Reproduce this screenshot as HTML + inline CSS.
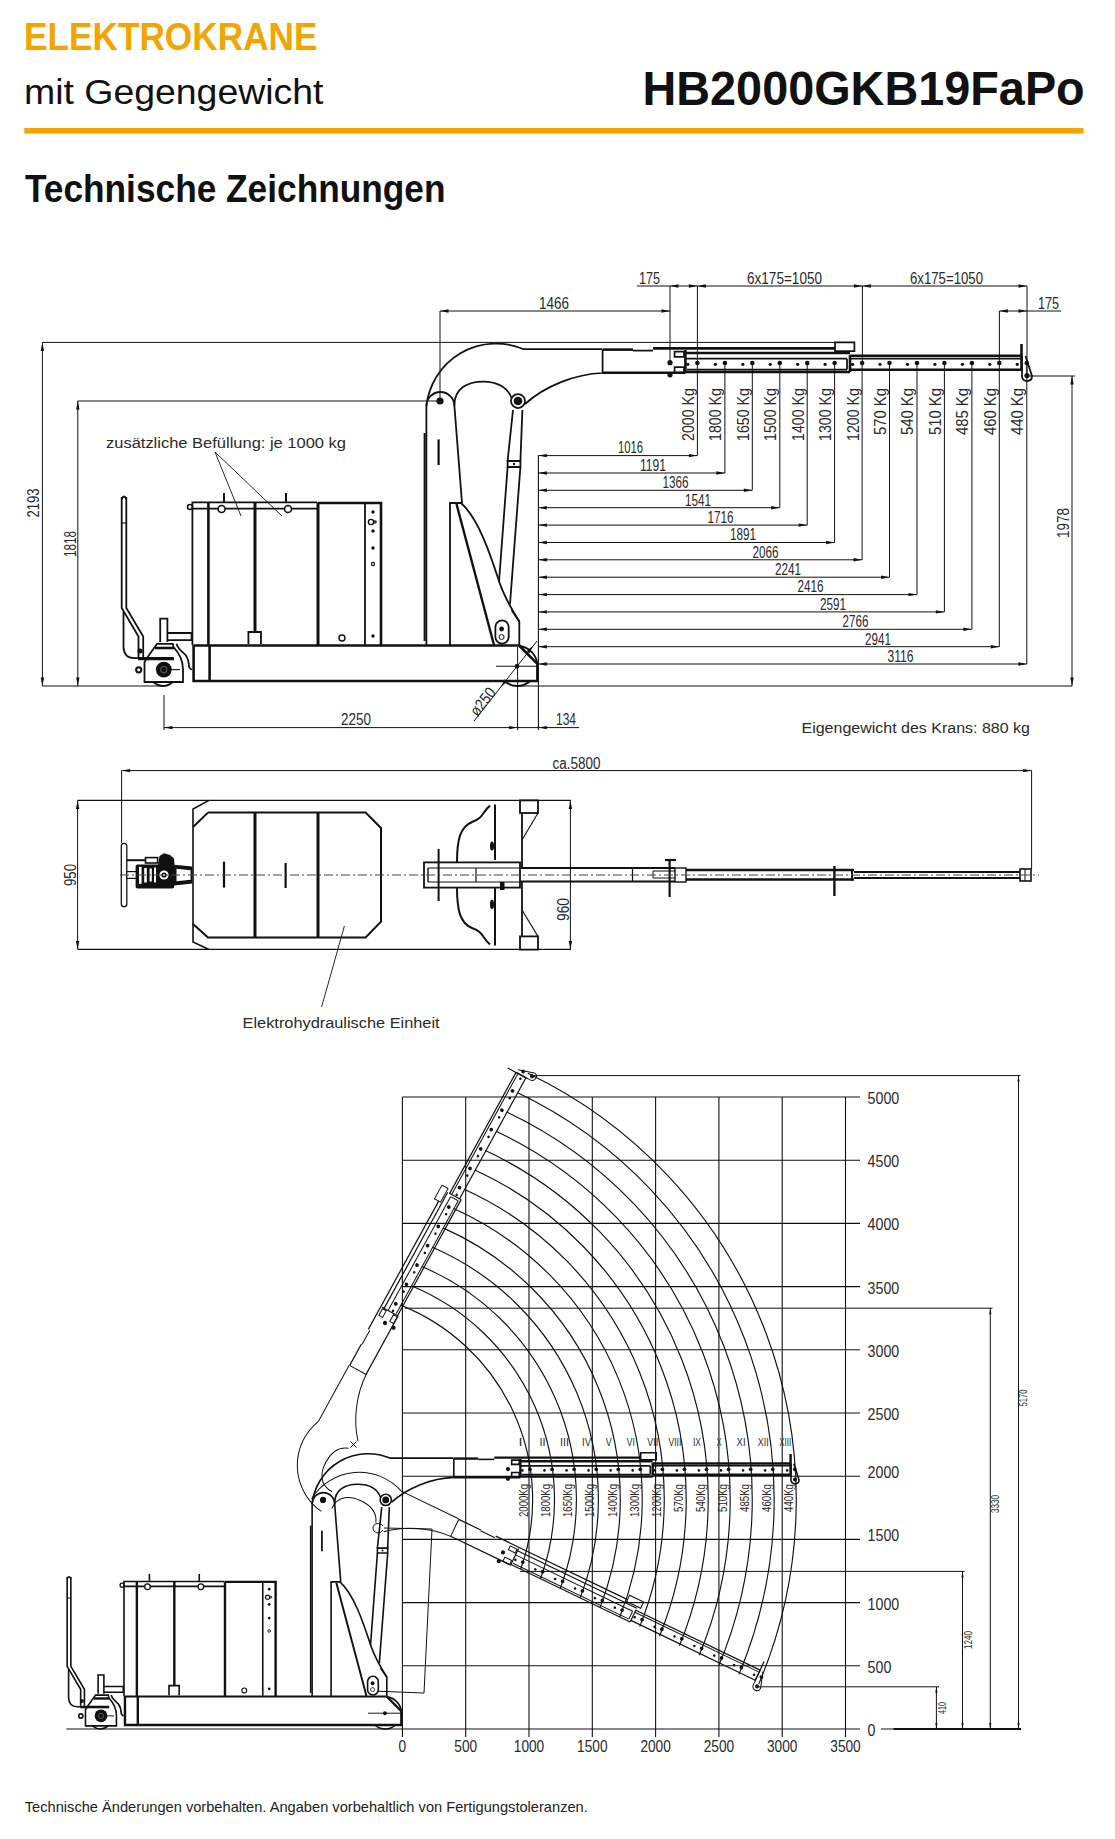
<!DOCTYPE html>
<html><head><meta charset="utf-8"><title>HB2000GKB19FaPo</title>
<style>
html,body{margin:0;padding:0;background:#fff;}
body{width:1115px;height:1839px;position:relative;overflow:hidden;font-family:"Liberation Sans",sans-serif;}
svg{position:absolute;left:0;top:0;}
svg text{font-family:"Liberation Sans",sans-serif;}
</style></head><body>
<svg width="1115" height="1839" viewBox="0 0 1115 1839" stroke-linecap="butt"><defs><g id="crane"><path d="M121.7,497 L121.7,608 L138.5,636.6 L138.5,657" stroke="#111" style="stroke-width:var(--nw,1.1px)" fill="none"/>
<path d="M126.3,497 L126.3,608 L143.2,636.6 L143.2,657" stroke="#111" style="stroke-width:var(--nw,1.1px)" fill="none"/>
<path d="M121.7,499 Q124,494 126.3,499" stroke="#111" style="stroke-width:var(--nw,1.1px)" fill="none"/>
<path d="M123.5,612 L123.5,647 Q124,658 134,658.2 L140,658.2" stroke="#111" style="stroke-width:var(--nw,1.1px)" fill="none"/>
<path d="M121.7,523 L126.3,523" stroke="#111" style="stroke-width:var(--hw,0.9px)" fill="none"/>
<path d="M144.5,662 L144.5,682 L183,682 L183,669 C183,660 178,652 173.5,647 L172.8,643.8 L157,643.8 L147,658 Z" stroke="#111" style="stroke-width:var(--nw,1.1px)" fill="#fff"/>
<line x1="155.0" y1="648.0" x2="174.0" y2="648.0" stroke="#111" style="stroke-width:var(--tw,2px)"/>
<line x1="138.0" y1="658.6" x2="174.0" y2="658.6" stroke="#111" stroke-width="3.2"/>
<path d="M160.2,642 L160.2,618.7 L167.4,618.7 L167.4,642" stroke="#111" style="stroke-width:var(--nw,1.1px)" fill="#fff"/>
<path d="M167.4,633 L191.6,633 L191.6,640.2 L167.4,640.2" stroke="#111" style="stroke-width:var(--nw,1.1px)" fill="none"/>
<path d="M176.4,643.8 Q178.2,649.2 185.3,654.6 Q189,660 189,667 L191.6,670" stroke="#111" style="stroke-width:var(--nw,1.1px)" fill="none"/>
<circle cx="163.8" cy="669.6" r="7.9" stroke="#111" stroke-width="0" fill="#111"/>
<circle cx="163.8" cy="669.6" r="3.2" stroke="#999" stroke-width="0.6" fill="none"/>
<line x1="171.0" y1="669.6" x2="180.0" y2="669.6" stroke="#111" style="stroke-width:var(--hw,0.9px)"/>
<path d="M153,682 Q163.8,690 172.8,682" stroke="#111" style="stroke-width:var(--nw,1.1px)" fill="none"/>
<circle cx="138.7" cy="669.8" r="2.6" stroke="#111" stroke-width="2" fill="none"/>
<circle cx="140.0" cy="651.0" r="2.5" fill="#111"/>
<path d="M192.4,645 L192.4,502.4 L317,502.4" stroke="#111" style="stroke-width:var(--nw,1.1px)" fill="none"/>
<line x1="192.4" y1="508.6" x2="317.0" y2="508.6" stroke="#111" style="stroke-width:var(--nw,1.1px)"/>
<line x1="208.4" y1="502.4" x2="208.4" y2="645.0" stroke="#111" style="stroke-width:var(--tw,2px)"/>
<line x1="255.0" y1="502.4" x2="255.0" y2="632.0" stroke="#111" stroke-width="3"/>
<path d="M248.4,644 L248.4,632 L261,632 L261,644" stroke="#111" style="stroke-width:var(--nw,1.1px)" fill="none"/>
<line x1="318.0" y1="502.4" x2="318.0" y2="645.0" stroke="#111" stroke-width="3"/>
<circle cx="221.6" cy="509.0" r="3.5" stroke="#111" stroke-width="1.6" fill="#fff"/>
<circle cx="288.0" cy="509.0" r="3.5" stroke="#111" stroke-width="1.6" fill="#fff"/>
<line x1="224.0" y1="493.0" x2="224.0" y2="502.0" stroke="#111" stroke-width="2"/>
<line x1="286.0" y1="493.0" x2="286.0" y2="502.0" stroke="#111" stroke-width="2"/>
<circle cx="190.0" cy="507.0" r="2.5" stroke="#111" stroke-width="1.6" fill="none"/>
<path d="M318,503 L381,503 L381,645" stroke="#111" style="stroke-width:var(--tw,2px)" fill="none"/>
<line x1="365.0" y1="503.0" x2="365.0" y2="645.0" stroke="#111" style="stroke-width:var(--nw,1.1px)"/>
<circle cx="373.0" cy="512.0" r="1.7" fill="#111"/>
<circle cx="373.0" cy="531.0" r="1.7" fill="#111"/>
<circle cx="373.0" cy="548.0" r="1.7" fill="#111"/>
<circle cx="373.0" cy="636.0" r="1.7" fill="#111"/>
<circle cx="371.0" cy="522.0" r="2.6" stroke="#111" stroke-width="1.4" fill="none"/>
<circle cx="375.0" cy="522.0" r="1.2" stroke="#111" stroke-width="1.2" fill="none"/>
<circle cx="373.0" cy="564.0" r="1.6" stroke="#111" stroke-width="1.2" fill="none"/>
<circle cx="342.0" cy="638.0" r="3" stroke="#111" stroke-width="1.4" fill="none"/>
<path d="M193.6,645 L193.6,681 L537.4,681 L537.4,663.8 L519.1,645.5" stroke="#111" style="stroke-width:var(--tw,2px)" fill="none"/>
<line x1="193.6" y1="645.5" x2="519.1" y2="645.5" stroke="#111" stroke-width="2.6"/>
<line x1="209.6" y1="645.0" x2="209.6" y2="681.0" stroke="#111" style="stroke-width:var(--tw,2px)"/>
<path d="M519.5,646 A20.5,20.5 0 0 1 537.4,663.8" stroke="#111" style="stroke-width:var(--nw,1.1px)" fill="none"/>
<path d="M504.4,681 A19.2,19.2 0 0 0 530.2,681" stroke="#111" style="stroke-width:var(--nw,1.1px)" fill="none"/>
<circle cx="517.0" cy="666.3" r="2.4" fill="#111"/>
<line x1="496.0" y1="666.3" x2="537.0" y2="666.3" stroke="#111" style="stroke-width:var(--hw,0.9px)"/>
<line x1="426.4" y1="406.0" x2="426.4" y2="645.0" stroke="#111" style="stroke-width:var(--nw,1.1px)"/>
<line x1="424.6" y1="433.0" x2="424.6" y2="641.0" stroke="#111" stroke-width="2"/>
<line x1="454.4" y1="406.0" x2="462.0" y2="503.0" stroke="#111" style="stroke-width:var(--nw,1.1px)"/>
<line x1="438.6" y1="439.4" x2="438.6" y2="465.0" stroke="#111" stroke-width="2.2"/>
<path d="M426.4,406 A14,14 0 0 1 454.4,406" stroke="#111" style="stroke-width:var(--nw,1.1px)" fill="none"/>
<path d="M450,645 L450,503 L462,503" stroke="#111" style="stroke-width:var(--nw,1.1px)" fill="none"/>
<line x1="456.5" y1="504.0" x2="494.0" y2="645.0" stroke="#111" stroke-width="2.4"/>
<path d="M461,503 C480,520 492,560 500,584 C505,598 512,610 519.3,621.5 L519.3,645" stroke="#111" style="stroke-width:var(--nw,1.1px)" fill="none"/>
<path d="M511.6,610 L519.3,621.5" stroke="#111" style="stroke-width:var(--nw,1.1px)" fill="none"/>
<path d="M495.4,627 A6.65,6.65 0 0 1 508.7,627 L508.7,637 A6.65,6.65 0 0 1 495.4,637Z" stroke="#111" style="stroke-width:var(--nw,1.1px)" fill="#fff"/>
<circle cx="501.6" cy="629.0" r="2.4" fill="#111"/>
<circle cx="501.6" cy="637.0" r="2.5" stroke="#111" stroke-width="1" fill="none"/>
<path d="M513,410 L507.6,461 M522.4,410 L520.4,461" stroke="#111" style="stroke-width:var(--nw,1.1px)" fill="none"/>
<path d="M507.6,461 L520.4,461 L520.4,467 L507.6,467Z" stroke="#111" style="stroke-width:var(--nw,1.1px)" fill="none"/>
<circle cx="514.0" cy="464.0" r="1.2" fill="#111"/>
<path d="M507.6,467 L499,582 M520.4,467 L510,604" stroke="#111" style="stroke-width:var(--nw,1.1px)" fill="none"/></g><g id="boom"><path d="M426.4,406 A70,70 0 0 1 523,349 L602,349" stroke="#111" style="stroke-width:var(--nw,1.1px)" fill="none"/>
<path d="M602.6,349.4 L602.6,373 C575,374 545,386 525,404" stroke="#111" style="stroke-width:var(--nw,1.1px)" fill="none"/>
<path d="M454.4,406 C454,388 468,381.5 483,381.5 C498,381.5 508,388 511.5,398" stroke="#111" style="stroke-width:var(--nw,1.1px)" fill="none"/>
<circle cx="440.0" cy="401.0" r="3.6" fill="#111"/>
<g style="opacity:var(--p2,1)"><circle cx="518.0" cy="401.0" r="7" stroke="#111" style="stroke-width:var(--nw,1.1px)" fill="#fff"/><circle cx="518.0" cy="401.0" r="4.3" fill="#111"/></g>
<line x1="602.6" y1="349.6" x2="633.0" y2="349.6" stroke="#111" style="stroke-width:var(--tw,2px)"/>
<line x1="633.0" y1="350.6" x2="653.0" y2="350.6" stroke="#111" style="stroke-width:var(--nw,1.1px)"/>
<line x1="602.6" y1="372.8" x2="685.4" y2="372.8" stroke="#111" style="stroke-width:var(--tw,2px)"/>
<line x1="685.4" y1="350.0" x2="685.4" y2="373.0" stroke="#111" style="stroke-width:var(--tw,2px)"/>
<line x1="653.0" y1="348.4" x2="835.0" y2="348.4" stroke="#111" style="stroke-width:var(--tw,2px)"/>
<path d="M835,342.4 L854.4,342.4 L854.4,351 L835,351Z" stroke="#111" style="stroke-width:var(--nw,1.1px)" fill="none"/>
<line x1="685.4" y1="353.0" x2="850.0" y2="353.0" stroke="#111" style="stroke-width:var(--tw,2px)"/>
<line x1="685.4" y1="358.7" x2="847.0" y2="358.7" stroke="#111" style="stroke-width:var(--nw,1.1px)"/>
<line x1="687.0" y1="369.5" x2="847.0" y2="369.5" stroke="#111" style="stroke-width:var(--nw,1.1px)"/>
<line x1="685.4" y1="372.0" x2="850.0" y2="372.0" stroke="#111" style="stroke-width:var(--tw,2px)"/>
<line x1="850.0" y1="355.0" x2="850.0" y2="372.0" stroke="#111" style="stroke-width:var(--tw,2px)"/>
<line x1="847.0" y1="358.7" x2="847.0" y2="369.5" stroke="#111" style="stroke-width:var(--nw,1.1px)"/>
<path d="M674.6,351.5 L684,351.5 L684,356.8 L674.6,356.8Z" stroke="#111" style="stroke-width:var(--nw,1.1px)" fill="none"/>
<path d="M674.6,367 L684,367 L684,372.6 L674.6,372.6Z" stroke="#111" style="stroke-width:var(--nw,1.1px)" fill="none"/>
<line x1="850.0" y1="355.8" x2="1021.0" y2="355.8" stroke="#111" style="stroke-width:var(--tw,2px)"/>
<line x1="850.0" y1="358.6" x2="1021.0" y2="358.6" stroke="#111" style="stroke-width:var(--nw,1.1px)"/>
<line x1="850.0" y1="369.8" x2="1021.0" y2="369.8" stroke="#111" style="stroke-width:var(--tw,2px)"/>
<line x1="1021.5" y1="344.0" x2="1021.5" y2="371.0" stroke="#111" style="stroke-width:var(--tw,2px)"/>
<path d="M1022,356 L1022,377 Q1023,381 1027,381 Q1032,381 1032,376 L1025.5,356" stroke="#111" style="stroke-width:var(--nw,1.1px)" fill="none"/>
<circle cx="1027.0" cy="375.6" r="2.6" fill="#111"/>
<circle cx="697.4" cy="363.0" r="2.3" fill="#111"/>
<circle cx="687.9" cy="364.3" r="1.6" fill="#111"/>
<circle cx="724.9" cy="363.0" r="2.3" fill="#111"/>
<circle cx="715.4" cy="364.3" r="1.6" fill="#111"/>
<circle cx="752.3" cy="363.0" r="2.3" fill="#111"/>
<circle cx="742.8" cy="364.3" r="1.6" fill="#111"/>
<circle cx="779.8" cy="363.0" r="2.3" fill="#111"/>
<circle cx="770.2" cy="364.3" r="1.6" fill="#111"/>
<circle cx="807.2" cy="363.0" r="2.3" fill="#111"/>
<circle cx="797.7" cy="364.3" r="1.6" fill="#111"/>
<circle cx="834.6" cy="363.0" r="2.3" fill="#111"/>
<circle cx="825.1" cy="364.3" r="1.6" fill="#111"/>
<circle cx="862.1" cy="363.0" r="2.3" fill="#111"/>
<circle cx="852.6" cy="364.3" r="1.6" fill="#111"/>
<circle cx="889.5" cy="363.0" r="2.3" fill="#111"/>
<circle cx="880.0" cy="364.3" r="1.6" fill="#111"/>
<circle cx="917.0" cy="363.0" r="2.3" fill="#111"/>
<circle cx="907.5" cy="364.3" r="1.6" fill="#111"/>
<circle cx="944.4" cy="363.0" r="2.3" fill="#111"/>
<circle cx="934.9" cy="364.3" r="1.6" fill="#111"/>
<circle cx="971.9" cy="363.0" r="2.3" fill="#111"/>
<circle cx="962.4" cy="364.3" r="1.6" fill="#111"/>
<circle cx="999.3" cy="363.0" r="2.3" fill="#111"/>
<circle cx="989.8" cy="364.3" r="1.6" fill="#111"/>
<circle cx="1026.8" cy="363.0" r="2.3" fill="#111"/>
<circle cx="1017.3" cy="364.3" r="1.6" fill="#111"/>
<circle cx="670.0" cy="362.7" r="2.6" fill="#111"/>
<circle cx="670.0" cy="374.8" r="2.6" fill="#111"/></g></defs>
<text x="24.0" y="49.8" font-size="39" text-anchor="start" textLength="293.5" lengthAdjust="spacingAndGlyphs" fill="#F2A400" font-weight="bold">ELEKTROKRANE</text>
<text x="24.0" y="104.0" font-size="35.6" text-anchor="start" textLength="299.5" lengthAdjust="spacingAndGlyphs" fill="#111" font-weight="normal">mit Gegengewicht</text>
<text x="642.5" y="105.2" font-size="48.6" text-anchor="start" textLength="442.2" lengthAdjust="spacingAndGlyphs" fill="#111" font-weight="bold">HB2000GKB19FaPo</text>
<rect x="24.3" y="128" width="1059.3" height="5.6" fill="#F2A400"/>
<text x="24.9" y="201.8" font-size="39" text-anchor="start" textLength="420.6" lengthAdjust="spacingAndGlyphs" fill="#111" font-weight="bold">Technische Zeichnungen</text>
<text x="24.8" y="1812.0" font-size="14.4" text-anchor="start" textLength="563" lengthAdjust="spacingAndGlyphs" fill="#222" font-weight="normal">Technische Änderungen vorbehalten. Angaben vorbehaltlich von Fertigungstoleranzen.</text>
<line x1="42.4" y1="342.4" x2="835.0" y2="342.4" stroke="#111" stroke-width="1"/>
<line x1="42.4" y1="686.0" x2="163.8" y2="686.0" stroke="#111" stroke-width="1.1"/>
<line x1="517.0" y1="686.0" x2="1072.0" y2="686.0" stroke="#111" stroke-width="1.1"/>
<line x1="42.4" y1="342.4" x2="42.4" y2="686.0" stroke="#111" stroke-width="1"/>
<path d="M42.4,342.4 L44.1,350.9 L40.7,350.9Z" fill="#111"/>
<path d="M42.4,686.0 L40.7,677.5 L44.1,677.5Z" fill="#111"/>
<line x1="77.8" y1="401.0" x2="77.8" y2="686.0" stroke="#111" stroke-width="1"/>
<path d="M77.8,401.0 L79.5,409.5 L76.1,409.5Z" fill="#111"/>
<path d="M77.8,686.0 L76.1,677.5 L79.5,677.5Z" fill="#111"/>
<line x1="77.8" y1="401.0" x2="440.0" y2="401.0" stroke="#111" stroke-width="1"/>
<text x="38.6" y="503.0" font-size="16" text-anchor="middle" textLength="29" lengthAdjust="spacingAndGlyphs" transform="rotate(-90 38.6 503.0)" fill="#2a2a2a" font-weight="normal">2193</text>
<text x="75.5" y="544.0" font-size="16" text-anchor="middle" textLength="26" lengthAdjust="spacingAndGlyphs" transform="rotate(-90 75.5 544.0)" fill="#2a2a2a" font-weight="normal">1818</text>
<line x1="440.0" y1="311.0" x2="670.0" y2="311.0" stroke="#111" stroke-width="1"/>
<path d="M440.0,311.0 L448.5,309.3 L448.5,312.7Z" fill="#111"/>
<path d="M670.0,311.0 L661.5,312.7 L661.5,309.3Z" fill="#111"/>
<line x1="440.0" y1="311.0" x2="440.0" y2="401.0" stroke="#111" stroke-width="1"/>
<text x="554.0" y="309.0" font-size="16" text-anchor="middle" textLength="30" lengthAdjust="spacingAndGlyphs" fill="#2a2a2a" font-weight="normal">1466</text>
<line x1="670.0" y1="286.0" x2="670.0" y2="363.0" stroke="#111" stroke-width="1"/>
<line x1="697.4" y1="286.0" x2="697.4" y2="363.0" stroke="#111" stroke-width="1"/>
<line x1="862.4" y1="286.0" x2="862.4" y2="363.0" stroke="#111" stroke-width="1"/>
<line x1="999.4" y1="311.0" x2="999.4" y2="363.0" stroke="#111" stroke-width="1"/>
<line x1="637.0" y1="286.0" x2="1027.0" y2="286.0" stroke="#111" stroke-width="1"/>
<path d="M670.0,286.0 L678.5,284.3 L678.5,287.7Z" fill="#111"/>
<path d="M697.4,286.0 L705.9,284.3 L705.9,287.7Z" fill="#111"/>
<path d="M697.4,286.0 L688.9,287.7 L688.9,284.3Z" fill="#111"/>
<path d="M862.4,286.0 L870.9,284.3 L870.9,287.7Z" fill="#111"/>
<path d="M862.4,286.0 L853.9,287.7 L853.9,284.3Z" fill="#111"/>
<path d="M1027.0,286.0 L1018.5,287.7 L1018.5,284.3Z" fill="#111"/>
<text x="649.5" y="283.6" font-size="16" text-anchor="middle" textLength="21" lengthAdjust="spacingAndGlyphs" fill="#2a2a2a" font-weight="normal">175</text>
<text x="784.5" y="283.6" font-size="16" text-anchor="middle" textLength="75" lengthAdjust="spacingAndGlyphs" fill="#2a2a2a" font-weight="normal">6x175=1050</text>
<text x="946.5" y="283.6" font-size="16" text-anchor="middle" textLength="73" lengthAdjust="spacingAndGlyphs" fill="#2a2a2a" font-weight="normal">6x175=1050</text>
<line x1="999.4" y1="311.0" x2="1061.0" y2="311.0" stroke="#111" stroke-width="1"/>
<path d="M999.4,311.0 L1007.9,309.3 L1007.9,312.7Z" fill="#111"/>
<path d="M1027.0,311.0 L1018.5,312.7 L1018.5,309.3Z" fill="#111"/>
<text x="1048.5" y="309.0" font-size="16" text-anchor="middle" textLength="21" lengthAdjust="spacingAndGlyphs" fill="#2a2a2a" font-weight="normal">175</text>
<line x1="1027.0" y1="286.0" x2="1027.0" y2="376.0" stroke="#111" stroke-width="1"/>
<line x1="1027.0" y1="376.0" x2="1075.0" y2="376.0" stroke="#111" stroke-width="1"/>
<line x1="1072.0" y1="376.0" x2="1072.0" y2="686.0" stroke="#111" stroke-width="1"/>
<path d="M1072.0,376.0 L1073.7,384.5 L1070.3,384.5Z" fill="#111"/>
<path d="M1072.0,686.0 L1070.3,677.5 L1073.7,677.5Z" fill="#111"/>
<text x="1068.5" y="523.0" font-size="16" text-anchor="middle" textLength="30" lengthAdjust="spacingAndGlyphs" transform="rotate(-90 1068.5 523.0)" fill="#2a2a2a" font-weight="normal">1978</text>
<line x1="164.0" y1="727.6" x2="579.0" y2="727.6" stroke="#111" stroke-width="1"/>
<path d="M164.0,727.6 L172.5,725.9 L172.5,729.3Z" fill="#111"/>
<path d="M517.6,727.6 L509.1,729.3 L509.1,725.9Z" fill="#111"/>
<path d="M538.4,727.6 L546.9,725.9 L546.9,729.3Z" fill="#111"/>
<line x1="164.0" y1="695.0" x2="164.0" y2="730.0" stroke="#111" stroke-width="1"/>
<line x1="517.6" y1="647.0" x2="517.6" y2="730.0" stroke="#111" stroke-width="1"/>
<text x="356.0" y="725.0" font-size="16" text-anchor="middle" textLength="30" lengthAdjust="spacingAndGlyphs" fill="#2a2a2a" font-weight="normal">2250</text>
<text x="566.0" y="725.0" font-size="16" text-anchor="middle" textLength="20" lengthAdjust="spacingAndGlyphs" fill="#2a2a2a" font-weight="normal">134</text>
<line x1="474.0" y1="721.0" x2="537.0" y2="641.0" stroke="#111" stroke-width="1"/>
<path d="M500.8,687.0 L504.7,679.3 L507.4,681.4Z" fill="#111"/>
<path d="M533.4,645.5 L529.5,653.2 L526.8,651.1Z" fill="#111"/>
<text x="487.0" y="705.0" font-size="16" text-anchor="middle" textLength="31" lengthAdjust="spacingAndGlyphs" transform="rotate(-51.8 487.0 705.0)" fill="#2a2a2a" font-weight="normal">ø250</text>
<line x1="538.4" y1="455.6" x2="538.4" y2="730.0" stroke="#111" stroke-width="1.1"/>
<line x1="538.4" y1="455.6" x2="697.4" y2="455.6" stroke="#111" stroke-width="1"/>
<path d="M538.4,455.6 L546.9,453.9 L546.9,457.3Z" fill="#111"/>
<path d="M697.4,455.6 L688.9,457.3 L688.9,453.9Z" fill="#111"/>
<line x1="697.4" y1="363.0" x2="697.4" y2="455.6" stroke="#111" stroke-width="1"/>
<text x="630.5" y="453.4" font-size="16" text-anchor="middle" textLength="25" lengthAdjust="spacingAndGlyphs" fill="#2a2a2a" font-weight="normal">1016</text>
<text x="693.8" y="388.0" font-size="16" text-anchor="end" textLength="53" lengthAdjust="spacingAndGlyphs" transform="rotate(-90 693.8 388.0)" fill="#2a2a2a" font-weight="normal">2000 Kg</text>
<line x1="538.4" y1="473.0" x2="724.9" y2="473.0" stroke="#111" stroke-width="1"/>
<path d="M538.4,473.0 L546.9,471.3 L546.9,474.7Z" fill="#111"/>
<path d="M724.9,473.0 L716.4,474.7 L716.4,471.3Z" fill="#111"/>
<line x1="724.9" y1="363.0" x2="724.9" y2="473.0" stroke="#111" stroke-width="1"/>
<text x="653.0" y="470.8" font-size="16" text-anchor="middle" textLength="26" lengthAdjust="spacingAndGlyphs" fill="#2a2a2a" font-weight="normal">1191</text>
<text x="721.2" y="388.0" font-size="16" text-anchor="end" textLength="53" lengthAdjust="spacingAndGlyphs" transform="rotate(-90 721.2 388.0)" fill="#2a2a2a" font-weight="normal">1800 Kg</text>
<line x1="538.4" y1="490.3" x2="752.3" y2="490.3" stroke="#111" stroke-width="1"/>
<path d="M538.4,490.3 L546.9,488.6 L546.9,492.0Z" fill="#111"/>
<path d="M752.3,490.3 L743.8,492.0 L743.8,488.6Z" fill="#111"/>
<line x1="752.3" y1="363.0" x2="752.3" y2="490.3" stroke="#111" stroke-width="1"/>
<text x="675.5" y="488.1" font-size="16" text-anchor="middle" textLength="26" lengthAdjust="spacingAndGlyphs" fill="#2a2a2a" font-weight="normal">1366</text>
<text x="748.7" y="388.0" font-size="16" text-anchor="end" textLength="53" lengthAdjust="spacingAndGlyphs" transform="rotate(-90 748.7 388.0)" fill="#2a2a2a" font-weight="normal">1650 Kg</text>
<line x1="538.4" y1="507.7" x2="779.8" y2="507.7" stroke="#111" stroke-width="1"/>
<path d="M538.4,507.7 L546.9,506.0 L546.9,509.4Z" fill="#111"/>
<path d="M779.8,507.7 L771.2,509.4 L771.2,506.0Z" fill="#111"/>
<line x1="779.8" y1="363.0" x2="779.8" y2="507.7" stroke="#111" stroke-width="1"/>
<text x="698.0" y="505.5" font-size="16" text-anchor="middle" textLength="26" lengthAdjust="spacingAndGlyphs" fill="#2a2a2a" font-weight="normal">1541</text>
<text x="776.1" y="388.0" font-size="16" text-anchor="end" textLength="53" lengthAdjust="spacingAndGlyphs" transform="rotate(-90 776.1 388.0)" fill="#2a2a2a" font-weight="normal">1500 Kg</text>
<line x1="538.4" y1="525.1" x2="807.2" y2="525.1" stroke="#111" stroke-width="1"/>
<path d="M538.4,525.1 L546.9,523.4 L546.9,526.8Z" fill="#111"/>
<path d="M807.2,525.1 L798.7,526.8 L798.7,523.4Z" fill="#111"/>
<line x1="807.2" y1="363.0" x2="807.2" y2="525.1" stroke="#111" stroke-width="1"/>
<text x="720.5" y="522.9" font-size="16" text-anchor="middle" textLength="26" lengthAdjust="spacingAndGlyphs" fill="#2a2a2a" font-weight="normal">1716</text>
<text x="803.6" y="388.0" font-size="16" text-anchor="end" textLength="53" lengthAdjust="spacingAndGlyphs" transform="rotate(-90 803.6 388.0)" fill="#2a2a2a" font-weight="normal">1400 Kg</text>
<line x1="538.4" y1="542.5" x2="834.6" y2="542.5" stroke="#111" stroke-width="1"/>
<path d="M538.4,542.5 L546.9,540.8 L546.9,544.2Z" fill="#111"/>
<path d="M834.6,542.5 L826.1,544.2 L826.1,540.8Z" fill="#111"/>
<line x1="834.6" y1="363.0" x2="834.6" y2="542.5" stroke="#111" stroke-width="1"/>
<text x="743.0" y="540.2" font-size="16" text-anchor="middle" textLength="26" lengthAdjust="spacingAndGlyphs" fill="#2a2a2a" font-weight="normal">1891</text>
<text x="831.0" y="388.0" font-size="16" text-anchor="end" textLength="53" lengthAdjust="spacingAndGlyphs" transform="rotate(-90 831.0 388.0)" fill="#2a2a2a" font-weight="normal">1300 Kg</text>
<line x1="538.4" y1="559.8" x2="862.1" y2="559.8" stroke="#111" stroke-width="1"/>
<path d="M538.4,559.8 L546.9,558.1 L546.9,561.5Z" fill="#111"/>
<path d="M862.1,559.8 L853.6,561.5 L853.6,558.1Z" fill="#111"/>
<line x1="862.1" y1="363.0" x2="862.1" y2="559.8" stroke="#111" stroke-width="1"/>
<text x="765.5" y="557.6" font-size="16" text-anchor="middle" textLength="26" lengthAdjust="spacingAndGlyphs" fill="#2a2a2a" font-weight="normal">2066</text>
<text x="858.5" y="388.0" font-size="16" text-anchor="end" textLength="53" lengthAdjust="spacingAndGlyphs" transform="rotate(-90 858.5 388.0)" fill="#2a2a2a" font-weight="normal">1200 Kg</text>
<line x1="538.4" y1="577.2" x2="889.5" y2="577.2" stroke="#111" stroke-width="1"/>
<path d="M538.4,577.2 L546.9,575.5 L546.9,578.9Z" fill="#111"/>
<path d="M889.5,577.2 L881.0,578.9 L881.0,575.5Z" fill="#111"/>
<line x1="889.5" y1="363.0" x2="889.5" y2="577.2" stroke="#111" stroke-width="1"/>
<text x="788.0" y="575.0" font-size="16" text-anchor="middle" textLength="26" lengthAdjust="spacingAndGlyphs" fill="#2a2a2a" font-weight="normal">2241</text>
<text x="885.9" y="388.0" font-size="16" text-anchor="end" textLength="47" lengthAdjust="spacingAndGlyphs" transform="rotate(-90 885.9 388.0)" fill="#2a2a2a" font-weight="normal">570 Kg</text>
<line x1="538.4" y1="594.6" x2="917.0" y2="594.6" stroke="#111" stroke-width="1"/>
<path d="M538.4,594.6 L546.9,592.9 L546.9,596.3Z" fill="#111"/>
<path d="M917.0,594.6 L908.5,596.3 L908.5,592.9Z" fill="#111"/>
<line x1="917.0" y1="363.0" x2="917.0" y2="594.6" stroke="#111" stroke-width="1"/>
<text x="810.5" y="592.4" font-size="16" text-anchor="middle" textLength="26" lengthAdjust="spacingAndGlyphs" fill="#2a2a2a" font-weight="normal">2416</text>
<text x="913.4" y="388.0" font-size="16" text-anchor="end" textLength="47" lengthAdjust="spacingAndGlyphs" transform="rotate(-90 913.4 388.0)" fill="#2a2a2a" font-weight="normal">540 Kg</text>
<line x1="538.4" y1="611.9" x2="944.4" y2="611.9" stroke="#111" stroke-width="1"/>
<path d="M538.4,611.9 L546.9,610.2 L546.9,613.6Z" fill="#111"/>
<path d="M944.4,611.9 L935.9,613.6 L935.9,610.2Z" fill="#111"/>
<line x1="944.4" y1="363.0" x2="944.4" y2="611.9" stroke="#111" stroke-width="1"/>
<text x="833.0" y="609.7" font-size="16" text-anchor="middle" textLength="26" lengthAdjust="spacingAndGlyphs" fill="#2a2a2a" font-weight="normal">2591</text>
<text x="940.8" y="388.0" font-size="16" text-anchor="end" textLength="47" lengthAdjust="spacingAndGlyphs" transform="rotate(-90 940.8 388.0)" fill="#2a2a2a" font-weight="normal">510 Kg</text>
<line x1="538.4" y1="629.3" x2="971.9" y2="629.3" stroke="#111" stroke-width="1"/>
<path d="M538.4,629.3 L546.9,627.6 L546.9,631.0Z" fill="#111"/>
<path d="M971.9,629.3 L963.4,631.0 L963.4,627.6Z" fill="#111"/>
<line x1="971.9" y1="363.0" x2="971.9" y2="629.3" stroke="#111" stroke-width="1"/>
<text x="855.5" y="627.1" font-size="16" text-anchor="middle" textLength="26" lengthAdjust="spacingAndGlyphs" fill="#2a2a2a" font-weight="normal">2766</text>
<text x="968.3" y="388.0" font-size="16" text-anchor="end" textLength="47" lengthAdjust="spacingAndGlyphs" transform="rotate(-90 968.3 388.0)" fill="#2a2a2a" font-weight="normal">485 Kg</text>
<line x1="538.4" y1="646.7" x2="999.3" y2="646.7" stroke="#111" stroke-width="1"/>
<path d="M538.4,646.7 L546.9,645.0 L546.9,648.4Z" fill="#111"/>
<path d="M999.3,646.7 L990.8,648.4 L990.8,645.0Z" fill="#111"/>
<line x1="999.3" y1="363.0" x2="999.3" y2="646.7" stroke="#111" stroke-width="1"/>
<text x="878.0" y="644.5" font-size="16" text-anchor="middle" textLength="26" lengthAdjust="spacingAndGlyphs" fill="#2a2a2a" font-weight="normal">2941</text>
<text x="995.7" y="388.0" font-size="16" text-anchor="end" textLength="47" lengthAdjust="spacingAndGlyphs" transform="rotate(-90 995.7 388.0)" fill="#2a2a2a" font-weight="normal">460 Kg</text>
<line x1="538.4" y1="664.0" x2="1026.8" y2="664.0" stroke="#111" stroke-width="1"/>
<path d="M538.4,664.0 L546.9,662.3 L546.9,665.7Z" fill="#111"/>
<path d="M1026.8,664.0 L1018.3,665.7 L1018.3,662.3Z" fill="#111"/>
<line x1="1026.8" y1="363.0" x2="1026.8" y2="664.0" stroke="#111" stroke-width="1"/>
<text x="900.5" y="661.8" font-size="16" text-anchor="middle" textLength="26" lengthAdjust="spacingAndGlyphs" fill="#2a2a2a" font-weight="normal">3116</text>
<text x="1023.2" y="388.0" font-size="16" text-anchor="end" textLength="47" lengthAdjust="spacingAndGlyphs" transform="rotate(-90 1023.2 388.0)" fill="#2a2a2a" font-weight="normal">440 Kg</text>
<text x="106.0" y="448.0" font-size="15.5" text-anchor="start" textLength="240" lengthAdjust="spacingAndGlyphs" fill="#2a2a2a" font-weight="normal">zusätzliche Befüllung: je 1000 kg</text>
<line x1="215.0" y1="452.0" x2="241.0" y2="516.0" stroke="#111" stroke-width="0.9"/>
<line x1="215.0" y1="452.0" x2="282.0" y2="516.0" stroke="#111" stroke-width="0.9"/>
<text x="801.5" y="732.6" font-size="15.5" text-anchor="start" textLength="228.5" lengthAdjust="spacingAndGlyphs" fill="#2a2a2a" font-weight="normal">Eigengewicht des Krans: 880 kg</text>
<line x1="121.6" y1="770.6" x2="1031.6" y2="770.6" stroke="#111" stroke-width="1"/>
<path d="M121.6,770.6 L130.1,768.9 L130.1,772.3Z" fill="#111"/>
<path d="M1031.6,770.6 L1023.1,772.3 L1023.1,768.9Z" fill="#111"/>
<line x1="121.6" y1="770.6" x2="121.6" y2="843.0" stroke="#111" stroke-width="1"/>
<line x1="1031.6" y1="770.6" x2="1031.6" y2="869.0" stroke="#111" stroke-width="1"/>
<text x="576.5" y="768.7" font-size="16" text-anchor="middle" textLength="48" lengthAdjust="spacingAndGlyphs" fill="#2a2a2a" font-weight="normal">ca.5800</text>
<line x1="77.6" y1="800.4" x2="571.0" y2="800.4" stroke="#111" stroke-width="1.2"/>
<line x1="77.6" y1="949.4" x2="571.0" y2="949.4" stroke="#111" stroke-width="1.2"/>
<line x1="77.6" y1="800.4" x2="77.6" y2="949.4" stroke="#111" stroke-width="1"/>
<path d="M77.6,800.4 L79.3,808.9 L75.9,808.9Z" fill="#111"/>
<path d="M77.6,949.4 L75.9,940.9 L79.3,940.9Z" fill="#111"/>
<text x="75.6" y="875.0" font-size="16" text-anchor="middle" textLength="22" lengthAdjust="spacingAndGlyphs" transform="rotate(-90 75.6 875.0)" fill="#2a2a2a" font-weight="normal">950</text>
<line x1="570.4" y1="800.4" x2="570.4" y2="949.6" stroke="#111" stroke-width="1"/>
<path d="M570.4,800.4 L572.1,808.9 L568.7,808.9Z" fill="#111"/>
<path d="M570.4,949.6 L568.7,941.1 L572.1,941.1Z" fill="#111"/>
<text x="568.5" y="909.5" font-size="16" text-anchor="middle" textLength="23" lengthAdjust="spacingAndGlyphs" transform="rotate(-90 568.5 909.5)" fill="#2a2a2a" font-weight="normal">960</text>
<path d="M209,800.4 L193,809 L193,942 L209,949.4" stroke="#111" stroke-width="1.6" fill="none"/>
<path d="M208,812.6 L365.6,812.6 L381,828 L381,921.6 L365.6,937.5 L208,937.5 L193,924 M193,827 L208,812.6" stroke="#111" stroke-width="2" fill="none"/>
<line x1="255.0" y1="812.6" x2="255.0" y2="938.0" stroke="#111" stroke-width="3"/>
<line x1="318.0" y1="812.6" x2="318.0" y2="938.0" stroke="#111" stroke-width="3"/>
<line x1="224.0" y1="861.6" x2="224.0" y2="887.6" stroke="#111" stroke-width="2.2"/>
<line x1="285.6" y1="863.0" x2="285.6" y2="888.0" stroke="#111" stroke-width="2.2"/>
<line x1="344.4" y1="926.0" x2="321.6" y2="1007.0" stroke="#111" stroke-width="0.9"/>
<text x="242.6" y="1027.8" font-size="15.5" text-anchor="start" textLength="197" lengthAdjust="spacingAndGlyphs" fill="#2a2a2a" font-weight="normal">Elektrohydraulische Einheit</text>
<rect x="121.3" y="843.4" width="5.5" height="63.2" rx="2.7" fill="#fff" stroke="#111" stroke-width="1.3"/>
<line x1="126.8" y1="860.2" x2="145.5" y2="860.2" stroke="#111" stroke-width="2"/>
<rect x="126.8" y="871.6" width="15" height="6.8" fill="#fff" stroke="#111" stroke-width="1.2"/>
<rect x="135.6" y="864.5" width="38.6" height="23.9" rx="2" fill="#111"/>
<rect x="139" y="866.8" width="2.6" height="17" fill="#fff"/>
<rect x="144.2" y="868" width="2.6" height="14.5" fill="#fff"/>
<rect x="149.6" y="868.5" width="2.2" height="13" fill="#fff"/>
<rect x="154" y="867.5" width="2" height="15" fill="#fff"/>
<circle cx="164.0" cy="875.0" r="4.6" stroke="#111" stroke-width="0" fill="#fff"/>
<circle cx="164.0" cy="875.0" r="2.6" fill="#111"/>
<circle cx="164.0" cy="875.0" r="0.9" stroke="#111" stroke-width="0" fill="#fff"/>
<path d="M158,865 L159.5,856 L164,853.3 L170,855 L174,858.5 L174.5,865Z" fill="#111"/>
<rect x="145.5" y="857.6" width="12.1" height="5.4" fill="#fff" stroke="#111" stroke-width="1.6"/>
<path d="M174,864.8 L192.4,866.5 L192.4,883.5 L174,885.5Z" fill="#111"/>
<path d="M176.5,868.8 L190.6,870.2 L190.6,879.8 L176.5,881.2Z" fill="#fff"/>
<rect x="424" y="862.4" width="96" height="25.2" fill="#fff" stroke="#111" stroke-width="1.8"/>
<line x1="428.0" y1="868.0" x2="520.0" y2="868.0" stroke="#111" stroke-width="1.2"/>
<line x1="428.0" y1="882.0" x2="520.0" y2="882.0" stroke="#111" stroke-width="1.2"/>
<line x1="428.0" y1="868.0" x2="428.0" y2="882.0" stroke="#111" stroke-width="1.4"/>
<line x1="476.0" y1="868.0" x2="476.0" y2="882.0" stroke="#111" stroke-width="1.2"/>
<line x1="438.6" y1="849.0" x2="438.6" y2="901.0" stroke="#111" stroke-width="2"/>
<path d="M495,804.4 L495,860 M490,805.6 C482,812 484,818 472,822 C460,827 457,840 457,862.4" stroke="#111" stroke-width="2" fill="none"/>
<path d="M495,945.6 L495,887.6 M490,944.4 C482,938 484,932 472,928 C460,923 457,910 457,887.6" stroke="#111" stroke-width="2" fill="none"/>
<ellipse cx="492" cy="846" rx="2" ry="4.6" fill="#111"/>
<ellipse cx="492" cy="904.4" rx="2" ry="4.6" fill="#111"/>
<rect x="520" y="800.4" width="18" height="12.6" fill="#fff" stroke="#111" stroke-width="1.8"/>
<rect x="520" y="936.4" width="18" height="13.2" fill="#fff" stroke="#111" stroke-width="1.8"/>
<line x1="522.0" y1="813.0" x2="522.0" y2="868.0" stroke="#111" stroke-width="1.8"/>
<line x1="522.0" y1="882.0" x2="522.0" y2="936.4" stroke="#111" stroke-width="1.8"/>
<line x1="538.0" y1="813.0" x2="522.0" y2="840.0" stroke="#111" stroke-width="1.1"/>
<line x1="522.0" y1="910.0" x2="538.0" y2="936.4" stroke="#111" stroke-width="1.1"/>
<line x1="520.0" y1="868.0" x2="675.0" y2="868.0" stroke="#111" stroke-width="2"/>
<line x1="520.0" y1="881.6" x2="675.0" y2="881.6" stroke="#111" stroke-width="2"/>
<line x1="632.5" y1="868.0" x2="632.5" y2="881.6" stroke="#111" stroke-width="1.2"/>
<line x1="653.0" y1="871.0" x2="675.0" y2="871.0" stroke="#111" stroke-width="1"/>
<line x1="653.0" y1="878.0" x2="675.0" y2="878.0" stroke="#111" stroke-width="1"/>
<line x1="653.0" y1="871.0" x2="653.0" y2="878.0" stroke="#111" stroke-width="1"/>
<rect x="500" y="882" width="4.5" height="8" fill="#111"/>
<line x1="669.6" y1="860.0" x2="669.6" y2="897.0" stroke="#111" stroke-width="2.2"/>
<line x1="665.0" y1="860.0" x2="676.0" y2="860.0" stroke="#111" stroke-width="2.2"/>
<rect x="675" y="868" width="11" height="14" fill="#fff" stroke="#111" stroke-width="1.4"/>
<line x1="686.0" y1="870.0" x2="854.0" y2="870.0" stroke="#111" stroke-width="2.4"/>
<line x1="686.0" y1="879.5" x2="854.0" y2="879.5" stroke="#111" stroke-width="2.4"/>
<line x1="834.4" y1="866.0" x2="834.4" y2="896.0" stroke="#111" stroke-width="2.4"/>
<line x1="852.0" y1="869.0" x2="852.0" y2="880.5" stroke="#111" stroke-width="2"/>
<line x1="854.0" y1="872.0" x2="1020.0" y2="872.0" stroke="#111" stroke-width="2"/>
<line x1="854.0" y1="878.0" x2="1020.0" y2="878.0" stroke="#111" stroke-width="2"/>
<rect x="1020" y="869" width="11" height="12" fill="#fff" stroke="#111" stroke-width="1.6"/>
<line x1="1025.0" y1="869.0" x2="1025.0" y2="881.0" stroke="#111" stroke-width="1"/>
<line x1="120.0" y1="875.0" x2="1039.0" y2="875.0" stroke="#444" stroke-width="1" stroke-dasharray="9,3,2,3"/>
<line x1="402.4" y1="1097.0" x2="402.4" y2="1737.0" stroke="#111" stroke-width="1.1"/>
<line x1="465.7" y1="1097.0" x2="465.7" y2="1737.0" stroke="#111" stroke-width="1.1"/>
<line x1="529.0" y1="1097.0" x2="529.0" y2="1737.0" stroke="#111" stroke-width="1.1"/>
<line x1="592.3" y1="1097.0" x2="592.3" y2="1737.0" stroke="#111" stroke-width="1.1"/>
<line x1="655.6" y1="1097.0" x2="655.6" y2="1737.0" stroke="#111" stroke-width="1.1"/>
<line x1="718.9" y1="1097.0" x2="718.9" y2="1737.0" stroke="#111" stroke-width="1.1"/>
<line x1="782.2" y1="1097.0" x2="782.2" y2="1737.0" stroke="#111" stroke-width="1.1"/>
<line x1="845.5" y1="1097.0" x2="845.5" y2="1737.0" stroke="#111" stroke-width="1.1"/>
<line x1="66.4" y1="1729.0" x2="860.0" y2="1729.0" stroke="#111" stroke-width="1.1"/>
<line x1="402.4" y1="1665.8" x2="860.0" y2="1665.8" stroke="#111" stroke-width="1.1"/>
<line x1="402.4" y1="1602.6" x2="860.0" y2="1602.6" stroke="#111" stroke-width="1.1"/>
<line x1="402.4" y1="1539.4" x2="860.0" y2="1539.4" stroke="#111" stroke-width="1.1"/>
<line x1="402.4" y1="1476.2" x2="860.0" y2="1476.2" stroke="#111" stroke-width="1.1"/>
<line x1="402.4" y1="1413.0" x2="860.0" y2="1413.0" stroke="#111" stroke-width="1.1"/>
<line x1="402.4" y1="1349.8" x2="860.0" y2="1349.8" stroke="#111" stroke-width="1.1"/>
<line x1="402.4" y1="1286.6" x2="860.0" y2="1286.6" stroke="#111" stroke-width="1.1"/>
<line x1="402.4" y1="1223.4" x2="860.0" y2="1223.4" stroke="#111" stroke-width="1.1"/>
<line x1="402.4" y1="1160.2" x2="860.0" y2="1160.2" stroke="#111" stroke-width="1.1"/>
<line x1="402.4" y1="1097.0" x2="860.0" y2="1097.0" stroke="#111" stroke-width="1.1"/>
<text x="867.6" y="1735.9" font-size="17.2" text-anchor="start" textLength="7.9" lengthAdjust="spacingAndGlyphs" fill="#2a2a2a" font-weight="normal">0</text>
<text x="867.6" y="1672.7" font-size="17.2" text-anchor="start" textLength="23.700000000000003" lengthAdjust="spacingAndGlyphs" fill="#2a2a2a" font-weight="normal">500</text>
<text x="867.6" y="1609.5" font-size="17.2" text-anchor="start" textLength="31.6" lengthAdjust="spacingAndGlyphs" fill="#2a2a2a" font-weight="normal">1000</text>
<text x="867.6" y="1540.8" font-size="17.2" text-anchor="start" textLength="31.6" lengthAdjust="spacingAndGlyphs" fill="#2a2a2a" font-weight="normal">1500</text>
<text x="867.6" y="1477.6" font-size="17.2" text-anchor="start" textLength="31.6" lengthAdjust="spacingAndGlyphs" fill="#2a2a2a" font-weight="normal">2000</text>
<text x="867.6" y="1419.9" font-size="17.2" text-anchor="start" textLength="31.6" lengthAdjust="spacingAndGlyphs" fill="#2a2a2a" font-weight="normal">2500</text>
<text x="867.6" y="1356.7" font-size="17.2" text-anchor="start" textLength="31.6" lengthAdjust="spacingAndGlyphs" fill="#2a2a2a" font-weight="normal">3000</text>
<text x="867.6" y="1293.5" font-size="17.2" text-anchor="start" textLength="31.6" lengthAdjust="spacingAndGlyphs" fill="#2a2a2a" font-weight="normal">3500</text>
<text x="867.6" y="1230.3" font-size="17.2" text-anchor="start" textLength="31.6" lengthAdjust="spacingAndGlyphs" fill="#2a2a2a" font-weight="normal">4000</text>
<text x="867.6" y="1167.1" font-size="17.2" text-anchor="start" textLength="31.6" lengthAdjust="spacingAndGlyphs" fill="#2a2a2a" font-weight="normal">4500</text>
<text x="867.6" y="1103.9" font-size="17.2" text-anchor="start" textLength="31.6" lengthAdjust="spacingAndGlyphs" fill="#2a2a2a" font-weight="normal">5000</text>
<text x="402.4" y="1752.0" font-size="16.5" text-anchor="middle" textLength="7.6" lengthAdjust="spacingAndGlyphs" fill="#2a2a2a" font-weight="normal">0</text>
<text x="465.7" y="1752.0" font-size="16.5" text-anchor="middle" textLength="22.799999999999997" lengthAdjust="spacingAndGlyphs" fill="#2a2a2a" font-weight="normal">500</text>
<text x="529.0" y="1752.0" font-size="16.5" text-anchor="middle" textLength="30.4" lengthAdjust="spacingAndGlyphs" fill="#2a2a2a" font-weight="normal">1000</text>
<text x="592.3" y="1752.0" font-size="16.5" text-anchor="middle" textLength="30.4" lengthAdjust="spacingAndGlyphs" fill="#2a2a2a" font-weight="normal">1500</text>
<text x="655.6" y="1752.0" font-size="16.5" text-anchor="middle" textLength="30.4" lengthAdjust="spacingAndGlyphs" fill="#2a2a2a" font-weight="normal">2000</text>
<text x="718.9" y="1752.0" font-size="16.5" text-anchor="middle" textLength="30.4" lengthAdjust="spacingAndGlyphs" fill="#2a2a2a" font-weight="normal">2500</text>
<text x="782.2" y="1752.0" font-size="16.5" text-anchor="middle" textLength="30.4" lengthAdjust="spacingAndGlyphs" fill="#2a2a2a" font-weight="normal">3000</text>
<text x="845.5" y="1752.0" font-size="16.5" text-anchor="middle" textLength="30.4" lengthAdjust="spacingAndGlyphs" fill="#2a2a2a" font-weight="normal">3500</text>
<line x1="533.0" y1="1075.6" x2="1020.5" y2="1075.6" stroke="#111" stroke-width="1"/>
<line x1="1018.5" y1="1075.6" x2="1018.5" y2="1729.0" stroke="#111" stroke-width="1"/>
<path d="M1018.5,1075.6 L1019.6,1081.6 L1017.4,1081.6Z" fill="#111"/>
<path d="M1018.5,1729.0 L1017.4,1723.0 L1019.6,1723.0Z" fill="#111"/>
<text x="1026.5" y="1398.0" font-size="11" text-anchor="middle" textLength="17" lengthAdjust="spacingAndGlyphs" transform="rotate(-90 1026.5 1398.0)" fill="#2a2a2a" font-weight="normal">5170</text>
<line x1="405.0" y1="1308.2" x2="992.5" y2="1308.2" stroke="#111" stroke-width="1"/>
<line x1="990.3" y1="1308.2" x2="990.3" y2="1729.0" stroke="#111" stroke-width="1"/>
<path d="M990.3,1308.2 L991.4,1314.2 L989.2,1314.2Z" fill="#111"/>
<path d="M990.3,1729.0 L989.2,1723.0 L991.4,1723.0Z" fill="#111"/>
<text x="999.0" y="1504.0" font-size="11" text-anchor="middle" textLength="18" lengthAdjust="spacingAndGlyphs" transform="rotate(-90 999.0 1504.0)" fill="#2a2a2a" font-weight="normal">3330</text>
<line x1="520.0" y1="1571.4" x2="964.7" y2="1571.4" stroke="#111" stroke-width="1"/>
<line x1="962.5" y1="1571.4" x2="962.5" y2="1729.0" stroke="#111" stroke-width="1"/>
<path d="M962.5,1571.4 L963.6,1577.4 L961.4,1577.4Z" fill="#111"/>
<path d="M962.5,1729.0 L961.4,1723.0 L963.6,1723.0Z" fill="#111"/>
<text x="971.5" y="1640.0" font-size="11" text-anchor="middle" textLength="18" lengthAdjust="spacingAndGlyphs" transform="rotate(-90 971.5 1640.0)" fill="#2a2a2a" font-weight="normal">1240</text>
<line x1="758.0" y1="1686.8" x2="939.0" y2="1686.8" stroke="#111" stroke-width="1"/>
<line x1="936.4" y1="1686.8" x2="936.4" y2="1729.0" stroke="#111" stroke-width="1"/>
<path d="M936.4,1686.8 L937.5,1692.8 L935.3,1692.8Z" fill="#111"/>
<path d="M936.4,1729.0 L935.3,1723.0 L937.5,1723.0Z" fill="#111"/>
<text x="945.5" y="1708.0" font-size="11" text-anchor="middle" textLength="12" lengthAdjust="spacingAndGlyphs" transform="rotate(-90 945.5 1708.0)" fill="#2a2a2a" font-weight="normal">410</text>
<line x1="881.0" y1="1729.0" x2="1021.0" y2="1729.0" stroke="#111" stroke-width="1.2"/>
<line x1="893.6" y1="1729.0" x2="1021.0" y2="1729.0" stroke="#111" stroke-width="2"/>
<path d="M400.6,1305.1 A209.3,209.3 0 0 1 520.7,1569.3" stroke="#111" stroke-width="1.15" fill="none"/>
<path d="M411.2,1285.8 A231.1,231.1 0 0 1 540.5,1578.8" stroke="#111" stroke-width="1.15" fill="none"/>
<path d="M421.8,1266.5 A253.0,253.0 0 0 1 560.3,1588.4" stroke="#111" stroke-width="1.15" fill="none"/>
<path d="M432.4,1247.2 A274.9,274.9 0 0 1 580.2,1597.9" stroke="#111" stroke-width="1.15" fill="none"/>
<path d="M443.0,1227.9 A296.9,296.9 0 0 1 600.0,1607.5" stroke="#111" stroke-width="1.15" fill="none"/>
<path d="M453.6,1208.5 A318.8,318.8 0 0 1 619.8,1617.0" stroke="#111" stroke-width="1.15" fill="none"/>
<path d="M464.2,1189.2 A340.8,340.8 0 0 1 639.7,1626.6" stroke="#111" stroke-width="1.15" fill="none"/>
<path d="M474.8,1169.9 A362.8,362.8 0 0 1 659.5,1636.2" stroke="#111" stroke-width="1.15" fill="none"/>
<path d="M485.4,1150.6 A384.8,384.8 0 0 1 679.4,1645.7" stroke="#111" stroke-width="1.15" fill="none"/>
<path d="M496.0,1131.2 A406.8,406.8 0 0 1 699.2,1655.3" stroke="#111" stroke-width="1.15" fill="none"/>
<path d="M506.6,1111.9 A428.8,428.8 0 0 1 719.1,1664.9" stroke="#111" stroke-width="1.15" fill="none"/>
<path d="M517.2,1092.6 A450.8,450.8 0 0 1 738.9,1674.4" stroke="#111" stroke-width="1.15" fill="none"/>
<path d="M527.8,1073.2 A472.8,472.8 0 0 1 758.8,1684.0" stroke="#111" stroke-width="1.15" fill="none"/>
<text x="520.4" y="1446.0" font-size="10.5" text-anchor="middle" textLength="4" lengthAdjust="spacingAndGlyphs" fill="#2a2a2a" font-weight="normal">I</text>
<text x="528.2" y="1484.0" font-size="13" text-anchor="end" textLength="33" lengthAdjust="spacingAndGlyphs" transform="rotate(-90 528.2 1484.0)" fill="#2a2a2a" font-weight="normal">2000Kg</text>
<text x="542.5" y="1446.0" font-size="10.5" text-anchor="middle" textLength="6" lengthAdjust="spacingAndGlyphs" fill="#2a2a2a" font-weight="normal">II</text>
<text x="550.3" y="1484.0" font-size="13" text-anchor="end" textLength="33" lengthAdjust="spacingAndGlyphs" transform="rotate(-90 550.3 1484.0)" fill="#2a2a2a" font-weight="normal">1800Kg</text>
<text x="564.5" y="1446.0" font-size="10.5" text-anchor="middle" textLength="9" lengthAdjust="spacingAndGlyphs" fill="#2a2a2a" font-weight="normal">III</text>
<text x="572.3" y="1484.0" font-size="13" text-anchor="end" textLength="33" lengthAdjust="spacingAndGlyphs" transform="rotate(-90 572.3 1484.0)" fill="#2a2a2a" font-weight="normal">1650Kg</text>
<text x="586.6" y="1446.0" font-size="10.5" text-anchor="middle" textLength="9" lengthAdjust="spacingAndGlyphs" fill="#2a2a2a" font-weight="normal">IV</text>
<text x="594.4" y="1484.0" font-size="13" text-anchor="end" textLength="33" lengthAdjust="spacingAndGlyphs" transform="rotate(-90 594.4 1484.0)" fill="#2a2a2a" font-weight="normal">1500Kg</text>
<text x="608.7" y="1446.0" font-size="10.5" text-anchor="middle" textLength="6" lengthAdjust="spacingAndGlyphs" fill="#2a2a2a" font-weight="normal">V</text>
<text x="616.5" y="1484.0" font-size="13" text-anchor="end" textLength="33" lengthAdjust="spacingAndGlyphs" transform="rotate(-90 616.5 1484.0)" fill="#2a2a2a" font-weight="normal">1400Kg</text>
<text x="630.8" y="1446.0" font-size="10.5" text-anchor="middle" textLength="8" lengthAdjust="spacingAndGlyphs" fill="#2a2a2a" font-weight="normal">VI</text>
<text x="638.5" y="1484.0" font-size="13" text-anchor="end" textLength="33" lengthAdjust="spacingAndGlyphs" transform="rotate(-90 638.5 1484.0)" fill="#2a2a2a" font-weight="normal">1300Kg</text>
<text x="652.8" y="1446.0" font-size="10.5" text-anchor="middle" textLength="11" lengthAdjust="spacingAndGlyphs" fill="#2a2a2a" font-weight="normal">VII</text>
<text x="660.6" y="1484.0" font-size="13" text-anchor="end" textLength="33" lengthAdjust="spacingAndGlyphs" transform="rotate(-90 660.6 1484.0)" fill="#2a2a2a" font-weight="normal">1200Kg</text>
<text x="674.9" y="1446.0" font-size="10.5" text-anchor="middle" textLength="13" lengthAdjust="spacingAndGlyphs" fill="#2a2a2a" font-weight="normal">VIII</text>
<text x="682.7" y="1484.0" font-size="13" text-anchor="end" textLength="28" lengthAdjust="spacingAndGlyphs" transform="rotate(-90 682.7 1484.0)" fill="#2a2a2a" font-weight="normal">570Kg</text>
<text x="697.0" y="1446.0" font-size="10.5" text-anchor="middle" textLength="8" lengthAdjust="spacingAndGlyphs" fill="#2a2a2a" font-weight="normal">IX</text>
<text x="704.8" y="1484.0" font-size="13" text-anchor="end" textLength="28" lengthAdjust="spacingAndGlyphs" transform="rotate(-90 704.8 1484.0)" fill="#2a2a2a" font-weight="normal">540Kg</text>
<text x="719.0" y="1446.0" font-size="10.5" text-anchor="middle" textLength="5" lengthAdjust="spacingAndGlyphs" fill="#2a2a2a" font-weight="normal">X</text>
<text x="726.8" y="1484.0" font-size="13" text-anchor="end" textLength="28" lengthAdjust="spacingAndGlyphs" transform="rotate(-90 726.8 1484.0)" fill="#2a2a2a" font-weight="normal">510Kg</text>
<text x="741.1" y="1446.0" font-size="10.5" text-anchor="middle" textLength="9" lengthAdjust="spacingAndGlyphs" fill="#2a2a2a" font-weight="normal">XI</text>
<text x="748.9" y="1484.0" font-size="13" text-anchor="end" textLength="28" lengthAdjust="spacingAndGlyphs" transform="rotate(-90 748.9 1484.0)" fill="#2a2a2a" font-weight="normal">485Kg</text>
<text x="763.2" y="1446.0" font-size="10.5" text-anchor="middle" textLength="11" lengthAdjust="spacingAndGlyphs" fill="#2a2a2a" font-weight="normal">XII</text>
<text x="771.0" y="1484.0" font-size="13" text-anchor="end" textLength="28" lengthAdjust="spacingAndGlyphs" transform="rotate(-90 771.0 1484.0)" fill="#2a2a2a" font-weight="normal">460Kg</text>
<text x="785.2" y="1446.0" font-size="10.5" text-anchor="middle" textLength="12" lengthAdjust="spacingAndGlyphs" fill="#2a2a2a" font-weight="normal">XIII</text>
<text x="793.0" y="1484.0" font-size="13" text-anchor="end" textLength="28" lengthAdjust="spacingAndGlyphs" transform="rotate(-90 793.0 1484.0)" fill="#2a2a2a" font-weight="normal">440Kg</text>
<path d="M384,1528 L432,1529 L424,1693 L372,1691" stroke="#111" stroke-width="1" fill="none"/>
<path d="M383,1530 C380,1535 373,1533 373,1528 C373,1523 380,1522 383,1526" stroke="#111" stroke-width="1" fill="none"/>
<path d="M350.5,1441.5 L356.5,1447.5 M356.5,1441.5 L350.5,1447.5" stroke="#111" stroke-width="1" fill="none"/>
<use href="#crane" style="--tw:2.6px;--nw:1.8px;--hw:1.1px"/>
<use href="#boom" style="--tw:2.6px;--nw:1.75px;--hw:1.1px"/>
<use href="#crane" transform="matrix(0.804 0 0 0.804 -30.7 1177.5)" style="--tw:3px;--nw:2px;--hw:1.2px"/>
<use href="#boom" transform="matrix(0.804 0 0 0.804 -30.7 1177.5) rotate(-61.26 440 401)" style="--tw:1.5px;--nw:1.25px;--hw:1px;--p2:0"/>
<use href="#boom" transform="matrix(0.804 0 0 0.804 -30.7 1177.5) rotate(25.72 440 401)" style="--tw:1.5px;--nw:1.25px;--hw:1px;--p2:0"/>
<use href="#boom" transform="matrix(0.804 0 0 0.804 -30.7 1177.5)" style="--tw:3px;--nw:2px;--hw:1.2px"/>
</svg>
</body></html>
